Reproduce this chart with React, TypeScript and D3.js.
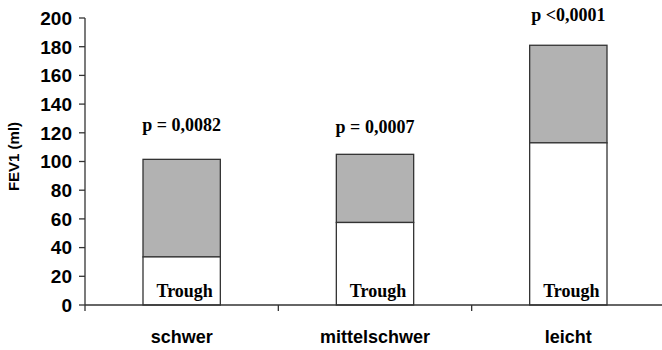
import React from 'react';
import * as d3 from 'd3';

const categories = ['schwer', 'mittelschwer', 'leicht'];
const troughValues = [33.5, 57.5, 113];
const totalValues = [101.5, 105, 181];
const pLabels = ['p = 0,0082', 'p = 0,0007', 'p <0,0001'];
const pLabelAt = [121, 120, 198];
const yTicks = [0, 20, 40, 60, 80, 100, 120, 140, 160, 180, 200];

const W = 662, H = 350;
const margin = { top: 18, right: -3, bottom: 45, left: 85 };

export default function App() {
  const innerW = W - margin.left - margin.right;
  const innerH = H - margin.top - margin.bottom;

  const x = d3.scaleBand().domain(categories).range([0, innerW]).paddingInner(0.6).paddingOuter(0.3);
  const y = d3.scaleLinear().domain([0, 200]).range([innerH, 0]);
  const step = x.step();

  const sans = '"Liberation Sans", Arial, sans-serif';
  const serif = '"Liberation Serif", "Times New Roman", serif';

  return (
    <svg width={W} height={H} style={{ position: 'absolute', left: 0, top: 0, background: '#fff' }}>
      <g transform={`translate(${margin.left},${margin.top})`}>
        {categories.map((c, i) => (
          <g key={c}>
            <rect x={x(c)} y={y(totalValues[i])} width={x.bandwidth()} height={y(troughValues[i]) - y(totalValues[i])}
              fill="#b2b2b2" stroke="#333" strokeWidth={1.3} />
            <rect x={x(c)} y={y(troughValues[i])} width={x.bandwidth()} height={innerH - y(troughValues[i])}
              fill="#fff" stroke="#333" strokeWidth={1.3} />
            <text x={(x(c) as number) + x.bandwidth() / 2 + 3} y={innerH - 8} textAnchor="middle"
              fontFamily={serif} fontWeight="bold" fontSize={18}>Trough</text>
            <text x={(x(c) as number) + x.bandwidth() / 2} y={y(pLabelAt[i])} textAnchor="middle"
              fontFamily={serif} fontWeight="bold" fontSize={18}>{pLabels[i]}</text>
            <text x={(x(c) as number) + x.bandwidth() / 2} y={innerH + 38} textAnchor="middle"
              fontFamily={sans} fontWeight="bold" fontSize={18}>{c}</text>
          </g>
        ))}

        {/* x axis with ticks at category boundaries */}
        <line x1={0} x2={innerW} y1={innerH} y2={innerH} stroke="#333" strokeWidth={1.3} />
        {[0, 1, 2].map(k => (
          <line key={k} x1={k * step} x2={k * step} y1={innerH} y2={innerH + 6} stroke="#333" strokeWidth={1.3} />
        ))}

        {/* y axis */}
        <line x1={0} x2={0} y1={0} y2={innerH} stroke="#333" strokeWidth={1.3} />
        {yTicks.map(t => (
          <g key={t} transform={`translate(0,${y(t)})`}>
            <line x1={-6} x2={0} stroke="#333" strokeWidth={1.3} />
            <text x={-13} dy="0.36em" textAnchor="end" fontFamily={sans} fontWeight="bold" fontSize={19}>{t}</text>
          </g>
        ))}
        <text transform={`translate(-66,${innerH / 2 - 5}) rotate(-90)`} textAnchor="middle"
          fontFamily={sans} fontWeight="bold" fontSize={15}>FEV1 (ml)</text>
      </g>
    </svg>
  );
}
